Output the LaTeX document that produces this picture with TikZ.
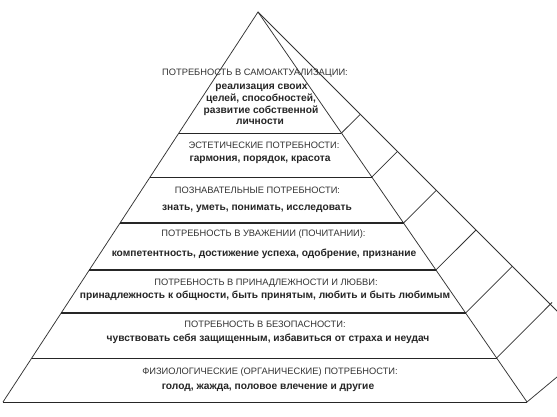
\documentclass[tikz,border=0pt]{standalone}
\usepackage{fontspec}
\setmainfont{Liberation Sans}
\usetikzlibrary{calc}
\begin{document}
\begin{tikzpicture}[x=1pt,y=-1pt,
  edge/.style={draw=black!80, line width=0.75pt},
  tier/.style={draw=black!85, line width=1pt},
  thick tier/.style={draw=black!85, line width=1.4pt},
  hd/.style={font=\fontsize{9.3}{10}\selectfont, anchor=base, inner sep=0pt, text=black!80},
  tx/.style={font=\fontsize{10.2}{12}\selectfont\bfseries, anchor=base, inner sep=0pt, text=black!85}]
\useasboundingbox[fill=white] (0,0) rectangle (557,417);
\begin{scope}
\clip (0,0) rectangle (557,417);
% front face
\coordinate (A) at (258,12);
\coordinate (BL) at (3,402);
\coordinate (BR) at (527,402);
\draw[edge] (BL) -- (A) -- (BR);
\draw[tier] (BL) -- (BR);
\foreach \t/\n in {0.3103/1,0.4231/2,0.5410/3,0.6615/4,0.7718/5,0.8872/6}{
  \coordinate (L\n) at ($(A)!\t!(BL)$);
  \coordinate (R\n) at ($(A)!\t!(BR)$);
}
\draw[tier] (L1) -- (R1);
\draw[tier] (L2) -- (R2);
\draw[thick tier] (L3) -- (R3);
\draw[thick tier] (L4) -- (R4);
\draw[thick tier] (L5) -- (R5);
\draw[tier] (L6) -- (R6);
% right face
\coordinate (Back) at (700,454);
\draw[edge] (A) -- (Back);
\coordinate (E1) at (360.3,114.3);
\coordinate (E2) at (397.4,151.4);
\coordinate (E3) at (436.3,190.3);
\coordinate (E4) at (476,230);
\coordinate (E5) at (512.3,266.3);
\coordinate (E6) at (552,302.5);
\coordinate (E7) at (593,347);
\foreach \n in {1,...,6}{\draw[edge] (R\n) -- (E\n);}
\draw[edge] (BR) -- (E7);
\end{scope}
% texts
\node[hd] (h1) at (255,75.3) {ПОТРЕБНОСТЬ В САМОАКТУАЛИЗАЦИИ:};
\node[tx] (t1a) at (261.5,90) {реализация своих};
\node[tx] (t1b) at (261,102) {целей, способностей,};
\node[tx] (t1c) at (261,114) {развитие собственной};
\node[tx] (t1d) at (260,125) {личности};
\node[hd] (h2) at (264,148.3) {ЭСТЕТИЧЕСКИЕ ПОТРЕБНОСТИ:};
\node[tx] (t2) at (260,162) {гармония, порядок, красота};
\node[hd] (h3) at (257.5,193.3) {ПОЗНАВАТЕЛЬНЫЕ ПОТРЕБНОСТИ:};
\node[tx] (t3) at (257,210) {знать, уметь, понимать, исследовать};
\node[hd] (h4) at (263.5,236.3) {ПОТРЕБНОСТЬ В УВАЖЕНИИ (ПОЧИТАНИИ):};
\node[tx] (t4) at (264,256) {компетентность, достижение успеха, одобрение, признание};
\node[hd] (h5) at (266,285.3) {ПОТРЕБНОСТЬ В ПРИНАДЛЕЖНОСТИ И ЛЮБВИ:};
\node[tx] (t5) at (265,298) {принадлежность к общности, быть принятым, любить и быть любимым};
\node[hd] (h6) at (265,327.3) {ПОТРЕБНОСТЬ В БЕЗОПАСНОСТИ:};
\node[tx] (t6) at (268,341) {чувствовать себя защищенным, избавиться от страха и неудач};
\node[hd] (h7) at (270,374.3) {ФИЗИОЛОГИЧЕСКИЕ (ОРГАНИЧЕСКИЕ) ПОТРЕБНОСТИ:};
\node[tx] (t7) at (268,389) {голод, жажда, половое влечение и другие};
\end{tikzpicture}
\end{document}
